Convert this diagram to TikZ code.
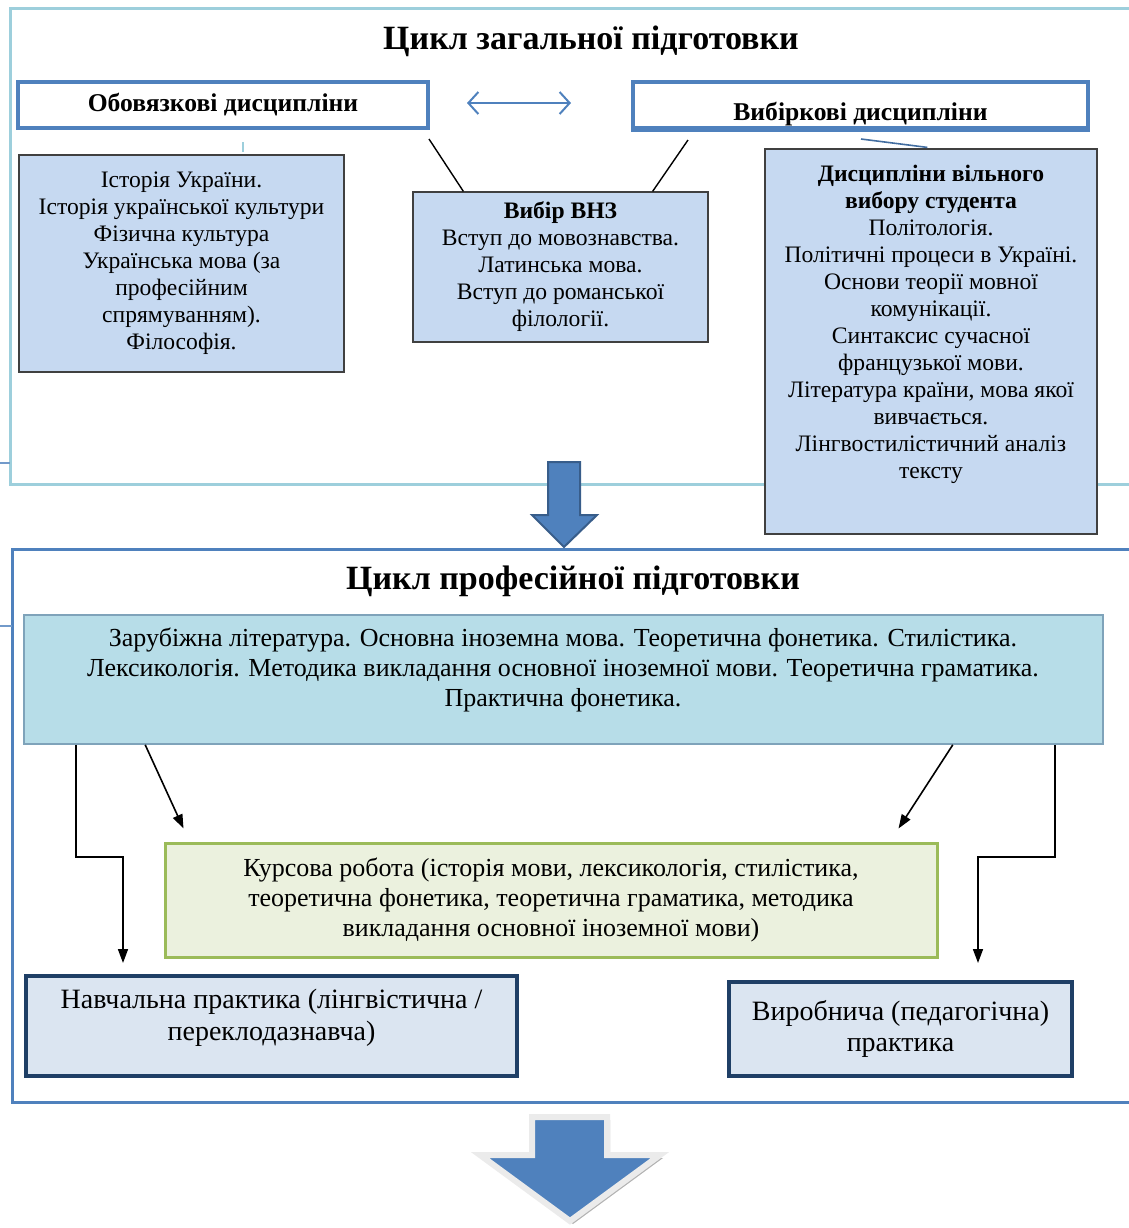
\documentclass[tikz,border=0pt]{standalone}
\usepackage{fontspec}
\setmainfont{Liberation Serif}
\usepackage{xcolor}
\usetikzlibrary{arrows.meta}
\usetikzlibrary{calc}

\definecolor{frameone}{HTML}{9DCFDC}
\definecolor{frametwo}{HTML}{4F81BD}
\definecolor{listfill}{HTML}{C6D9F1}
\definecolor{tealfill}{HTML}{B7DDE8}
\definecolor{tealedge}{HTML}{7FA3BA}
\definecolor{greenfill}{HTML}{EBF1DE}
\definecolor{greenedge}{HTML}{9BBB59}
\definecolor{palefill}{HTML}{DBE5F1}
\definecolor{navyedge}{HTML}{1F3F66}
\definecolor{arrowedge}{HTML}{385D8A}

\tikzset{
	headbox/.style={draw=frametwo, line width=2pt, fill=white, font=\bfseries\fontsize{12.8}{14}\selectfont, minimum height=23pt},
	listbox/.style={draw=black!75, line width=0.6pt, fill=listfill, align=center, font=\fontsize{11.8}{13.5}\selectfont},
	practbox/.style={draw=navyedge, line width=2pt, fill=palefill, align=center, font=\fontsize{14}{15.8}\selectfont},
	cycletitle/.style={font=\bfseries\fontsize{17}{19}\selectfont},
	link/.style={black, line width=0.7pt},
	arr/.style={black, line width=0.8pt, -{Triangle[length=7pt, width=5pt]}}
}

\begin{document}
\begin{tikzpicture}[x=0.5pt, y=-0.5pt]
	\useasboundingbox (0,0) rectangle (1129,1228);

	% frames of the two cycles
	\draw[frameone, line width=1.5pt] (1129,8) -- (10,8) -- (10,484) -- (1129,484);
	\draw[frametwo!80, line width=0.6pt] (0,463) -- (10,463);
	\draw[frametwo, line width=1.5pt] (1129,549) -- (12,549) -- (12,1102) -- (1129,1102);
	\draw[frametwo!80, line width=0.6pt] (0,626) -- (12,626);

	% general cycle
	\node[cycletitle] (gentitle) at (591,41) {Цикл загальної підготовки};
	\node[headbox, minimum width=205pt] (oblig) at (223,105) {\raisebox{-1.5pt}{Обовязкові дисципліни}};
	\node[headbox, minimum width=227.5pt, text depth=0pt] (elect) at (860.5,105) {\raisebox{-6pt}{Вибіркові дисципліни}};
	\draw[frametwo, line width=2pt] (elect.south west) -- (elect.south east);

	\node[listbox, minimum width=162.5pt, minimum height=108.5pt] (hist) at (181.5,263.5) {Історія України.\\Історія української культури\\Фізична культура\\Українська мова (за\\професійним\\спрямуванням).\\Філософія.};
	\node[listbox, minimum width=147.5pt, minimum height=75pt] (uni) at (560.5,267) {\textbf{Вибір ВНЗ}\\Вступ до мовознавства.\\Латинська мова.\\Вступ до романської\\філології.};
	\node[listbox, minimum width=166pt, minimum height=192.5pt] (free) at (931,341.5) {};
	\node[anchor=north, align=center, font=\fontsize{11.8}{13.5}\selectfont] (freetext) at ([yshift=-5pt]free.north) {\textbf{Дисципліни вільного}\\\textbf{вибору студента}\\Політологія.\\Політичні процеси в Україні.\\Основи теорії мовної\\комунікації.\\Синтаксис сучасної\\французької мови.\\Література країни, мова якої\\вивчається.\\Лінгвостилістичний аналіз\\тексту};

	\draw[frametwo, line width=1pt, {Straight Barb[length=5pt, width=11pt]}-{Straight Barb[length=5pt, width=11pt]}] ([shift={(37,-2)}]oblig.east) -- ([shift={(-60,-2)}]elect.west);
	\draw[frameone, line width=0.8pt] ([shift={(20,12)}]oblig.south) -- ++(0,10);
	\draw[link] ([shift={(-1,9)}]oblig.south east) -- ([shift={(51,0)}]uni.north west);
	\draw[link] ([shift={(57,10)}]elect.south west) -- ([shift={(-56,0)}]uni.north east);
	\draw[frametwo!85!black, line width=0.8pt] ([shift={(230,9)}]elect.south west) -- ([shift={(163,-1)}]free.north west);

	% arrow between the cycles
	\draw[arrowedge, fill=frametwo, line width=1pt, line join=miter] (548,462) -- (580,462) -- (580,515) -- (597,515) -- (564,547) -- (532,515) -- (548,515) -- cycle;

	% professional cycle
	\node[cycletitle] (proftitle) at (573,581) {Цикл професійної підготовки};
	\node[draw=tealedge, line width=0.8pt, fill=tealfill, minimum width=539.5pt, minimum height=64.5pt] (core) at (563.5,679.5) {};
	\node[align=center, font=\fontsize{13}{15}\selectfont] (coretext) at (563,670) {Зарубіжна література. Основна іноземна мова. Теоретична фонетика. Стилістика.\\Лексикологія. Методика викладання основної іноземної мови. Теоретична граматика.\\Практична фонетика.};

	\node[draw=greenedge, line width=1.5pt, fill=greenfill, align=center, minimum width=386pt, minimum height=57pt, font=\fontsize{13}{15}\selectfont] (course) at (551,900) {Курсова робота (історія мови, лексикологія, стилістика,\\теоретична фонетика, теоретична граматика, методика\\викладання основної іноземної мови)};

	\node[practbox, minimum width=245.5pt, minimum height=50pt] (study) at (271.5,1026) {};
	\node[align=center, font=\fontsize{14}{15.8}\selectfont] (studytext) at (271.5,1017.5) {Навчальна практика (лінгвістична /\\переклодазнавча)};
	\node[practbox, minimum width=171.5pt, minimum height=47pt] (work) at (900.5,1029) {Виробнича (педагогічна)\\практика};

	\draw[arr] ([shift={(53,0)}]core.south west) -- ++(0,112) -| ([shift={(99,-11)}]study.north west);
	\draw[arr] ([shift={(122,0)}]core.south west) -- ([shift={(20,-13)}]course.north west);
	\draw[arr] ([shift={(-151,0)}]core.south east) -- ([shift={(-40,-13)}]course.north east);
	\draw[arr] ([shift={(-49,0)}]core.south east) -- ++(0,112) -| ([shift={(251,-17)}]work.north west);

	% arrow at the bottom
	\fill[black!30] (535,1120) -- (610,1120) -- (610,1158) -- (663,1158) -- (573,1224) -- (483,1158) -- (535,1158) -- cycle;
	\draw[black!8, fill=frametwo, line width=3pt, line join=miter] (532,1117) -- (607,1117) -- (607,1155) -- (660,1155) -- (570,1221) -- (480,1155) -- (532,1155) -- cycle;
\end{tikzpicture}
\end{document}
